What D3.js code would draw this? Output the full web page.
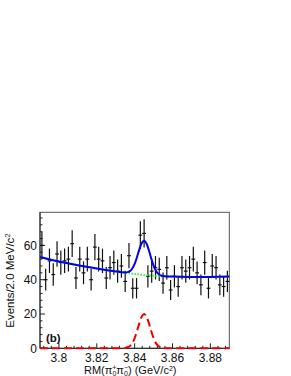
<!DOCTYPE html>
<html>
<head>
<meta charset="utf-8">
<script src="https://cdn.jsdelivr.net/npm/d3@7"></script>
<style>
  html, body { margin: 0; padding: 0; background: #fff; }
  svg { display: block; }
  text { font-family: "Liberation Sans", Arial, Helvetica, sans-serif; }
</style>
</head>
<body>
<svg id="chart" width="291" height="376"></svg>
<script>
// ---- data ----
const binCenters = [3.791,3.793,3.795,3.797,3.799,3.801,3.803,3.805,3.807,3.809,
                    3.811,3.813,3.815,3.817,3.819,3.821,3.823,3.825,3.827,3.829,
                    3.831,3.833,3.835,3.837,3.839,3.841,3.843,3.845,3.847,3.849,
                    3.851,3.853,3.855,3.857,3.859,3.861,3.863,3.865,3.867,3.869,
                    3.871,3.873,3.875,3.877,3.879,3.881,3.883,3.885,3.887,3.889];
const counts = [60,40,51,43,55,50,51,52,61,41,
                52,44,52,40,59,52,51,41,47,50,
                45,48,39,54,35,35,66,67,42,45,
                47,46,38,47,34,42,36,47,45,47,
                52,44,37,50,35,48,47,37,36,39];
// fitted curves
const curveX = [3.79,3.80,3.81,3.82,3.83,3.835,3.83625,3.8375,3.83875,3.84,3.84125,3.8425,3.84375,
                3.845,3.84625,3.8475,3.84875,3.85,3.85125,3.8525,3.85375,3.855,3.86,3.87,3.88,3.89];
const bgY    = [53.2,50.6,48.4,46.5,44.8,44.1,43.9,43.7,43.5,43.3,43.15,43.0,42.85,
                42.7,42.6,42.5,42.4,42.3,42.2,42.1,42.05,42.0,41.8,41.6,41.6,41.8];
const sigY   = [0,0,0,0,0,0.15,0.5,1.3,3.0,5.9,10.1,14.7,18.5,
                20,18.5,14.7,10.1,5.9,3.0,1.3,0.5,0.15,0,0,0,0];
const xTicks = [3.80,3.82,3.84,3.86,3.88];
const yTicks = [0,20,40,60];
const binWidth = 0.002;

const svg = d3.select("#chart");
const L = 40, R = 229.3, T = 212.3, B = 348.3;
const x = d3.scaleLinear().domain([3.79, 3.89]).range([L, R]);
const y = d3.scaleLinear().domain([0, 79.3]).range([B, T]);

// frame
svg.append("rect").attr("x", L).attr("y", T).attr("width", R - L).attr("height", B - T)
  .attr("fill", "none").attr("stroke", "#555").attr("stroke-width", 1);

// ticks pointing inward
const xMinor = d3.range(3.792, 3.8895, 0.004);
const yMinor = d3.range(0, 79, 4);
const ax = svg.append("g").attr("stroke", "#222").attr("stroke-width", 1);
xMinor.forEach(v => {
  const isMajor = xTicks.some(t => Math.abs(t - v) < 1e-6);
  ax.append("line").attr("x1", x(v)).attr("x2", x(v)).attr("y1", B).attr("y2", B - (isMajor ? 5 : 2.5));
});
yMinor.forEach(v => {
  const isMajor = yTicks.includes(v);
  ax.append("line").attr("x1", L).attr("x2", L + (isMajor ? 5 : 2.5)).attr("y1", y(v)).attr("y2", y(v));
});
svg.append("line").attr("x1", L).attr("x2", L).attr("y1", T).attr("y2", B).attr("stroke", "#222");
svg.append("line").attr("x1", L).attr("x2", R).attr("y1", B).attr("y2", B).attr("stroke", "#222");

// tick labels
svg.selectAll(".xt").data(xTicks).enter().append("text")
  .attr("x", d => x(d)).attr("y", 361.5).attr("text-anchor", "middle")
  .attr("font-size", 12).attr("fill", "#111")
  .text(d => d === 3.8 ? "3.8" : d3.format(".2f")(d));
svg.selectAll(".yt").data(yTicks).enter().append("text")
  .attr("x", 37).attr("y", d => y(d) + 4.3).attr("text-anchor", "end")
  .attr("font-size", 12).attr("fill", "#111")
  .text(d => d);

// data points with error bars
const pts = svg.append("g").attr("stroke", "#111").attr("stroke-width", 1.2);
binCenters.forEach((m, i) => {
  const c = counts[i], e = Math.sqrt(c);
  pts.append("line").attr("x1", x(m)).attr("x2", x(m)).attr("y1", y(c - e)).attr("y2", y(Math.min(c + e, 79.3)));
  pts.append("line").attr("x1", x(m - binWidth / 2)).attr("x2", x(m + binWidth / 2)).attr("y1", y(c)).attr("y2", y(c));
});

// curves
const line = d3.line().curve(d3.curveCatmullRom).x(d => x(d[0])).y(d => y(d[1]));
const bgPts = curveX.map((v, i) => [v, bgY[i]]);
const sigPts = curveX.map((v, i) => [v, sigY[i]]);
const totPts = curveX.map((v, i) => [v, bgY[i] + sigY[i]]);

svg.append("path").attr("d", line(bgPts)).attr("fill", "none")
  .attr("stroke", "#33ee33").attr("stroke-width", 2).attr("stroke-dasharray", "1.5,1.5");
svg.append("path").attr("d", line(totPts)).attr("fill", "none")
  .attr("stroke", "#0000ee").attr("stroke-width", 2);
svg.append("path").attr("d", line(sigPts)).attr("fill", "none")
  .attr("stroke", "#ee0000").attr("stroke-width", 2).attr("stroke-dasharray", "8,4");

// panel label
svg.append("text").attr("x", 46).attr("y", 341.5).attr("font-size", 11.5).attr("font-weight", "bold")
  .attr("font-family", "'Liberation Serif', 'Times New Roman', serif").attr("fill", "#111").text("(b)");

// y title
const yt = svg.append("text").attr("transform", "translate(14,280.5) rotate(-90)")
  .attr("text-anchor", "middle").attr("font-size", 11.5).attr("fill", "#111");
yt.append("tspan").text("Events/2.0 MeV/c");
yt.append("tspan").attr("dy", -4).attr("font-size", 8).text("2");

// x title
const xt = svg.append("text").attr("x", 84).attr("y", 374).attr("font-size", 11).attr("fill", "#111");
xt.append("tspan").text("RM(π");
xt.append("tspan").attr("font-size", 7).attr("dy", -4).text("+");
xt.append("tspan").attr("font-size", 7).attr("dx", -4).attr("dy", 6).text("0");
xt.append("tspan").attr("dy", -2).text("π");
xt.append("tspan").attr("font-size", 7).attr("dy", -4).text("−");
xt.append("tspan").attr("font-size", 7).attr("dx", -4).attr("dy", 6).text("0");
xt.append("tspan").attr("dy", -2).text(") (GeV/c");
xt.append("tspan").attr("font-size", 7).attr("dy", -3.5).text("2");
xt.append("tspan").attr("dy", 3.5).text(")");
</script>
</body>
</html>
